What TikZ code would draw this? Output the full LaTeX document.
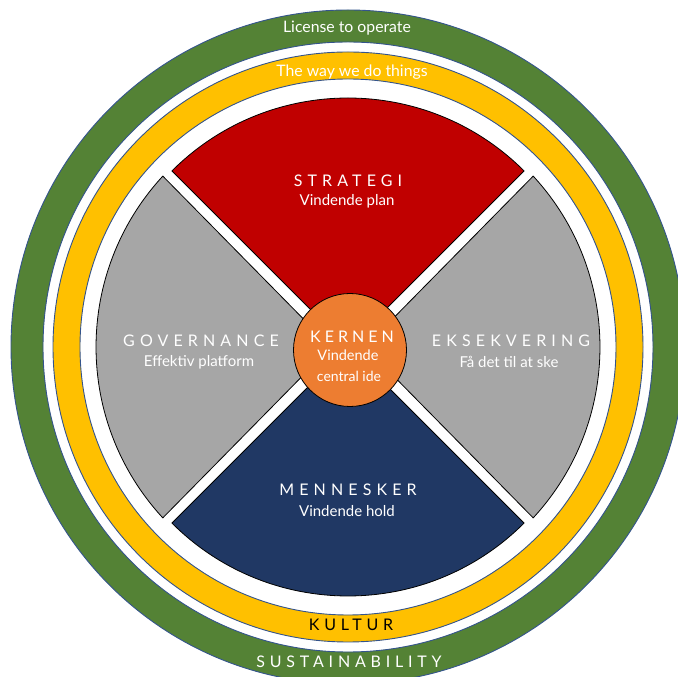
\documentclass[tikz,border=0pt]{standalone}
\usepackage{fontspec}
\setmainfont{Lato}
\newfontfamily\widefont[LetterSpace=32]{Lato}
\newfontfamily\bandfont[LetterSpace=30]{Lato}
\newfontfamily\corefont[LetterSpace=25]{Lato}
\definecolor{ringgreen}{RGB}{84,130,53}
\definecolor{ringgold}{RGB}{255,192,0}
\definecolor{ringedge}{RGB}{52,84,140}
\definecolor{stratred}{RGB}{192,0,0}
\definecolor{peoplenavy}{RGB}{32,56,100}
\definecolor{sidegray}{RGB}{166,166,166}
\definecolor{coreorange}{RGB}{237,125,49}
\tikzset{
  ring/.style={even odd rule, draw=ringedge, line width=0.9pt},
  sector/.style={draw=black, line width=0.8pt},
  head/.style={text=white, font=\widefont\fontsize{16}{19}\selectfont, inner sep=0pt},
  sub/.style={text=white, font=\fontsize{15}{18}\selectfont, inner sep=0pt},
  bandtext/.style={text=white, font=\fontsize{15.8}{19}\selectfont, inner sep=0pt},
  bandcaps/.style={font=\bandfont\fontsize{16}{19}\selectfont, inner sep=0pt}
}
\begin{document}
\begin{tikzpicture}[x=1pt,y=1pt]
\useasboundingbox (0,0) rectangle (678,677);
\clip (0,0) rectangle (678,677);
\coordinate (c) at (348,330);

% outer rings
\fill[ringgreen, ring] (c) circle (337) (c) circle (305);
\fill[ringgold, ring] (c) circle (295) (c) circle (268);

% four quadrants
\begin{scope}[shift={(c)}]
  \fill[stratred, sector] (0,0) -- (45:249) arc[start angle=45, end angle=135, radius=249] -- cycle;
  \fill[peoplenavy, sector] (0,0) -- (225:249) arc[start angle=225, end angle=315, radius=249] -- cycle;
  \fill[sidegray, sector] (180:17) -- (137.3:252) arc[start angle=137.3, end angle=222.7, radius=252] -- cycle;
  \fill[sidegray, sector] (0:17) -- (-42.7:252) arc[start angle=-42.7, end angle=42.7, radius=252] -- cycle;
\end{scope}

% core
\node[circle, fill=coreorange, draw=black, line width=0.8pt, minimum size=113pt, inner sep=0pt] (kernen) at (350,327) {};

% band labels
\node[bandtext] (license) at (347,649) {License to operate};
\node[bandtext] (wayof) at (352,605) {The way we do things};
\node[bandcaps, text=black] (kultur) at (351,52) {KULTUR};
\node[bandcaps, text=white] (sustain) at (349,15) {SUSTAINABILITY};

% quadrant labels
\node[head] (strategi) at (348,496) {STRATEGI};
\node[sub] (strategisub) at (347,476) {Vindende plan};
\node[head] (governance) at (201,336) {GOVERNANCE};
\node[sub] (governancesub) at (199,315) {Effektiv platform};
\node[head] (eksekvering) at (511,336) {EKSEKVERING};
\node[sub] (eksekveringsub) at (509,315) {Få det til at ske};
\node[head] (mennesker) at (348,187) {MENNESKER};
\node[sub] (menneskersub) at (347,166) {Vindende hold};

% core labels
\node[text=white, inner sep=0pt, font=\corefont\fontsize{16}{19}\selectfont] (kernenhead) at (352,340) {KERNEN};
\node[sub, font=\fontsize{14.5}{17}\selectfont] (kernensub1) at (348,322) {Vindende};
\node[sub, font=\fontsize{14}{17}\selectfont] (kernensub2) at (349,301) {central ide};
\end{tikzpicture}
\end{document}
